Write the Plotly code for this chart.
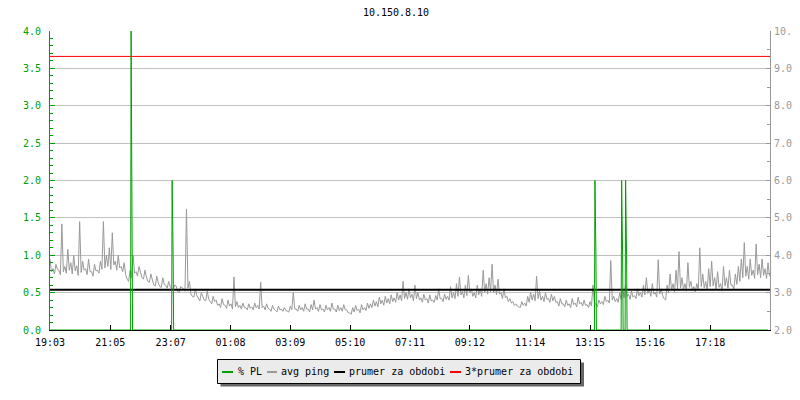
import plotly.graph_objects as go

# ---- data -----------------------------------------------------------------
# time axis: minutes after 19:03, labels as printed under the axis
tick_labels = ['19:03', '21:05', '23:07', '01:08', '03:09', '05:10',
               '07:11', '09:12', '11:14', '13:15', '15:16', '17:18']
tick_minutes = [0, 122, 244, 365, 486, 607, 728, 849, 971, 1092, 1213, 1335]
span_minutes = 1456

# avg ping [ms] per 6-minute bin (right axis): upper and lower envelope
ping_step = 6
ping_high = [
    3.90, 3.64, 3.76, 3.60, 4.84, 3.70, 4.16, 3.80, 4.00, 3.72,
    4.90, 3.84, 3.64, 3.90, 3.56, 3.76, 3.60, 3.84, 4.90, 4.00,
    4.20, 4.60, 3.84, 4.00, 3.70, 3.80, 3.36, 3.60, 4.00, 3.56,
    3.70, 3.40, 3.60, 3.30, 3.50, 3.20, 3.44, 3.16, 3.40, 3.20,
    3.30, 3.10, 3.20, 3.04, 3.16, 3.10, 5.24, 3.30, 2.90, 3.10,
    2.84, 3.00, 2.80, 3.04, 2.76, 2.90, 2.80, 2.70, 2.84, 2.66,
    2.80, 2.70, 3.42, 2.76, 2.66, 2.72, 2.60, 2.70, 2.62, 2.72,
    2.66, 3.28, 2.64, 2.70, 2.56, 2.66, 2.52, 2.64, 2.56, 2.60,
    2.50, 2.64, 3.00, 2.56, 2.66, 2.60, 2.70, 2.56, 2.68, 2.80,
    2.60, 2.68, 2.56, 2.66, 2.60, 2.72, 2.56, 2.66, 2.60, 2.68,
    2.54, 2.46, 2.60, 2.66, 2.56, 2.68, 2.60, 2.72, 2.70, 2.80,
    2.76, 2.88, 2.80, 2.90, 2.84, 2.94, 2.86, 3.00, 2.94, 3.30,
    3.00, 3.10, 2.96, 3.20, 3.00, 2.86, 2.96, 2.84, 2.94, 2.80,
    2.92, 3.10, 2.84, 2.96, 2.90, 3.16, 3.00, 3.24, 3.42, 3.04,
    3.20, 3.46, 3.10, 3.00, 3.20, 3.10, 3.60, 3.24, 3.40, 3.76,
    3.20, 3.36, 3.00, 3.10, 2.90, 2.84, 2.76, 2.70, 2.62, 2.76,
    2.72, 2.90, 3.00, 2.96, 3.44, 3.04, 2.90, 3.00, 2.84, 2.96,
    2.90, 2.76, 2.84, 2.70, 2.80, 2.70, 2.84, 2.72, 2.88, 2.74,
    2.80, 2.68, 2.76, 3.20, 2.70, 2.80, 2.76, 2.90, 2.80, 3.86,
    2.90, 2.84, 3.00, 3.10, 3.20, 2.96, 3.04, 2.92, 3.10, 3.00,
    3.20, 3.40, 3.10, 3.24, 3.00, 3.88, 3.10, 2.84, 3.20, 3.50,
    3.24, 3.60, 4.10, 3.40, 3.24, 3.80, 3.30, 3.16, 3.24, 4.20,
    3.50, 3.30, 3.64, 3.84, 3.40, 3.56, 3.24, 3.70, 3.40, 3.60,
    3.20, 3.50, 3.70, 3.90, 4.34, 3.70, 3.90, 3.60, 4.30, 3.76,
    3.90, 3.64, 3.80,
]
ping_low = [
    3.56, 3.50, 3.62, 3.48, 3.56, 3.52, 3.60, 3.50, 3.58, 3.46,
    3.54, 3.60, 3.48, 3.56, 3.44, 3.58, 3.52, 3.62, 3.66, 3.70,
    3.62, 3.74, 3.60, 3.66, 3.56, 3.48, 3.30, 3.40, 3.52, 3.44,
    3.50, 3.36, 3.42, 3.28, 3.34, 3.18, 3.26, 3.14, 3.22, 3.12,
    3.16, 3.06, 3.18, 3.00, 3.14, 3.04, 3.12, 2.96, 2.88, 2.92,
    2.78, 2.90, 2.78, 2.82, 2.70, 2.76, 2.66, 2.60, 2.68, 2.58,
    2.64, 2.56, 2.62, 2.60, 2.56, 2.60, 2.54, 2.58, 2.54, 2.60,
    2.56, 2.60, 2.54, 2.58, 2.50, 2.56, 2.48, 2.54, 2.50, 2.52,
    2.48, 2.54, 2.56, 2.50, 2.54, 2.50, 2.56, 2.48, 2.54, 2.56,
    2.50, 2.54, 2.48, 2.54, 2.50, 2.56, 2.48, 2.52, 2.50, 2.54,
    2.46, 2.42, 2.48, 2.52, 2.46, 2.54, 2.52, 2.58, 2.60, 2.64,
    2.62, 2.70, 2.66, 2.72, 2.70, 2.76, 2.74, 2.80, 2.78, 2.84,
    2.82, 2.86, 2.78, 2.84, 2.80, 2.74, 2.80, 2.72, 2.78, 2.74,
    2.80, 2.84, 2.76, 2.82, 2.80, 2.86, 2.84, 2.90, 2.94, 2.86,
    2.92, 3.00, 2.90, 2.86, 2.94, 2.90, 3.00, 2.96, 3.02, 3.00,
    2.94, 2.96, 2.84, 2.86, 2.76, 2.72, 2.66, 2.64, 2.60, 2.66,
    2.64, 2.74, 2.80, 2.78, 2.84, 2.80, 2.76, 2.82, 2.74, 2.78,
    2.74, 2.64, 2.70, 2.62, 2.66, 2.60, 2.68, 2.62, 2.70, 2.64,
    2.66, 2.60, 2.64, 2.70, 2.62, 2.70, 2.68, 2.76, 2.72, 2.80,
    2.76, 2.74, 2.82, 2.86, 2.90, 2.82, 2.88, 2.84, 2.92, 2.88,
    2.94, 2.98, 2.90, 2.96, 2.88, 2.96, 2.92, 2.80, 3.00, 3.06,
    3.02, 3.10, 3.12, 3.08, 3.04, 3.14, 3.06, 3.02, 3.08, 3.16,
    3.12, 3.06, 3.16, 3.18, 3.10, 3.14, 3.04, 3.18, 3.12, 3.20,
    3.10, 3.22, 3.30, 3.40, 3.44, 3.36, 3.46, 3.38, 3.48, 3.40,
    3.46, 3.38, 3.44,
]

# packet loss [%] (left axis), zero except for a few short bursts
pl_minutes = [0, 163, 164, 166, 167, 246, 247, 249, 250,
              1101, 1102, 1104, 1105, 1155, 1156, 1158, 1159,
              1163, 1164, 1166, 1167, 1452]
pl_values = [0, 0, 4, 2, 0, 0, 2, 1, 0,
             0, 2, 1, 0, 0, 2, 1, 0,
             0, 2, 1, 0, 0]

# period average and 3x average [ms]
mean_ping = 3.08
triple_mean_ping = 9.32

# ---- styling ---------------------------------------------------------------
FONT = 'DejaVu Sans Mono'
GREEN = '#00a000'
GRAY = '#999999'
GRID = '#c0c0c0'

W, H = 800, 400
PAGE = 8  # default body margin of the html page shifts the figure
# plot area in window pixels: x 50..770, y 31..330
L, R, T, B = 50 - PAGE, W - 770 + PAGE, 31 - PAGE, H - 330 + PAGE
plot_w, plot_h = W - L - R, H - T - B


def px(x):
    """window pixel x -> paper x"""
    return (x - 50) / plot_w


def py(y):
    """window pixel y -> paper y"""
    return (330 - y) / plot_h


# each bin is drawn as its high value followed by its low value
ping_x, ping_y = [], []
for i, (hi, lo) in enumerate(zip(ping_high, ping_low)):
    ping_x += [i * ping_step, i * ping_step + ping_step / 2]
    ping_y += [hi, lo]

fig = go.Figure()

fig.add_trace(go.Scatter(
    x=ping_x, y=ping_y, name='avg ping', mode='lines',
    line=dict(color=GRAY, width=1), yaxis='y',
))
fig.add_trace(go.Scatter(
    x=[0, span_minutes], y=[mean_ping, mean_ping], name='prumer za obdobi',
    mode='lines', line=dict(color='black', width=2), yaxis='y',
))
fig.add_trace(go.Scatter(
    x=[0, span_minutes], y=[triple_mean_ping, triple_mean_ping],
    name='3*prumer za obdobi', mode='lines',
    line=dict(color='red', width=1), yaxis='y',
))
fig.add_trace(go.Scatter(
    x=pl_minutes, y=pl_values, name='% PL', mode='lines',
    line=dict(color=GREEN, width=1), yaxis='y2',
))

fig.update_layout(
    width=W, height=H, autosize=False,
    margin=dict(l=L, r=R, t=T, b=B, autoexpand=False),
    paper_bgcolor='white', plot_bgcolor='white',
    showlegend=False,
    font=dict(family=FONT, size=10, color='black'),
    title=dict(text='10.150.8.10', x=(396 - PAGE) / W, xref='container',
               xanchor='center', y=1 - (12 - PAGE) / H, yref='container',
               yanchor='middle',
               font=dict(family=FONT, size=10, color='black')),
    xaxis=dict(
        range=[0, span_minutes], tickmode='array',
        tickvals=tick_minutes, ticktext=tick_labels,
        showgrid=False, zeroline=False, automargin=False,
        showline=True, linecolor='black', linewidth=1,
        ticks='inside', ticklen=5, tickcolor='black', tickwidth=1,
        ticklabelstandoff=3,
        tickfont=dict(family=FONT, size=10, color='black'),
    ),
    yaxis=dict(
        side='right', range=[2, 10], dtick=1, tick0=2, tickformat='.1f',
        showgrid=True, gridcolor=GRID, gridwidth=1, zeroline=False,
        automargin=False,
        showline=True, linecolor=GRAY, linewidth=1,
        ticks='inside', ticklen=4, tickcolor=GRAY,
        minor=dict(dtick=0.5, ticks='inside', ticklen=3, tickcolor=GRAY,
                   showgrid=False),
        ticklabelstandoff=1,
        tickfont=dict(family=FONT, size=10, color=GRAY),
    ),
    yaxis2=dict(
        overlaying='y', side='left', range=[0, 4], dtick=0.5, tick0=0,
        tickformat='.1f', showgrid=False, zeroline=False, automargin=False,
        showline=True, linecolor=GREEN, linewidth=1,
        ticks='inside', ticklen=5, tickcolor=GREEN,
        minor=dict(dtick=0.1, ticks='inside', ticklen=3, tickcolor=GREEN,
                   showgrid=False),
        ticklabelstandoff=6,
        tickfont=dict(family=FONT, size=10, color=GREEN),
    ),
)

# legend box drawn by hand (short line keys like the original)
legend_items = [
    ('% PL', GREEN, 222, 233, 236),
    ('avg ping', GRAY, 267, 277, 279),
    ('prumer za obdobi', 'black', 334, 345, 347),
    ('3*prumer za obdobi', 'red', 450, 461, 463),
]
fig.add_shape(type='rect', xref='paper', yref='paper',
              x0=px(220.5), x1=px(584), y0=py(386.5), y1=py(362.5),
              fillcolor='#666666', line=dict(width=0))
fig.add_shape(type='rect', xref='paper', yref='paper',
              x0=px(217.5), x1=px(580.5), y0=py(383.5), y1=py(359.5),
              fillcolor='#ebebeb', line=dict(color='black', width=1))
for label, color, lx0, lx1, tx in legend_items:
    fig.add_shape(type='line', xref='paper', yref='paper',
                  x0=px(lx0), x1=px(lx1), y0=py(372), y1=py(372),
                  line=dict(color=color, width=2))
    fig.add_annotation(text=label, xref='paper', yref='paper',
                       x=px(tx), y=py(371), xanchor='left', yanchor='middle',
                       showarrow=False,
                       font=dict(family=FONT, size=10, color='black'))

fig.write_html('out.html')
